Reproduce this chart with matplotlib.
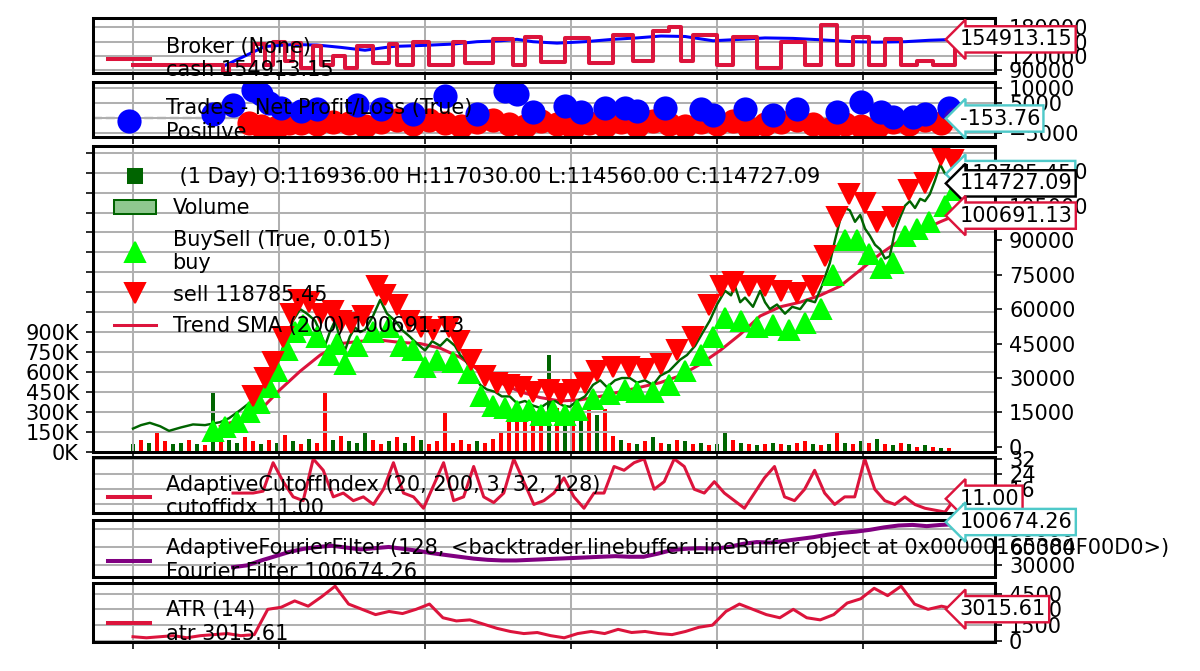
import numpy as np
import matplotlib
matplotlib.use("Agg")
import matplotlib.pyplot as plt
from matplotlib.lines import Line2D
from matplotlib.patches import Patch

# ---- data (x in trading days from start) ----
price_days = [0, 20, 42, 68, 90, 120, 150, 180, 218, 240, 268, 290, 318, 335, 355, 368, 380, 400, 418, 435,
              455, 468, 480, 492, 505, 518, 530, 542, 555, 568, 580, 600, 618, 635, 655, 672, 692, 710, 730, 748,
              768, 785, 805, 818, 830, 850, 868, 885, 905, 922, 942, 960, 980, 1000, 1018, 1035, 1055, 1075, 1092, 1110,
              1130, 1150, 1168, 1185, 1205, 1222, 1242, 1260, 1280, 1300, 1318, 1340, 1368, 1385, 1405, 1425, 1442, 1460, 1480, 1495,
              1505, 1518, 1530, 1550, 1568, 1580, 1592, 1610, 1630, 1648, 1668, 1685, 1705, 1722, 1742, 1755, 1768, 1780, 1792, 1805,
              1818, 1830, 1842, 1855, 1868, 1880, 1892, 1905, 1918, 1930, 1942, 1955, 1968, 1980, 1992, 2005, 2018, 2030, 2042, 2055]
price = [8000, 9500, 10500, 9000, 7000, 8500, 9800, 9500, 10800, 12500, 16000, 19000, 22600, 28000, 33000, 40000, 46000, 55000, 60000, 58000,
         55000, 50000, 44000, 50000, 55000, 47000, 42000, 48000, 52000, 50000, 51000, 57000, 64000, 58000, 55000, 51000, 48000, 45000, 42000, 46000,
         44000, 47000, 44000, 40000, 38000, 32000, 27000, 25000, 24000, 22000, 22000, 19000, 20000, 18000, 17000, 19000, 20000, 18000, 17500, 20000,
         22000, 27000, 29000, 26000, 29000, 30000, 30000, 28000, 29000, 27000, 31000, 33000, 38000, 40000, 44000, 50000, 55000, 62000, 68000, 66000,
         70000, 63000, 65000, 61000, 68000, 63000, 60000, 62000, 58000, 61000, 60000, 64000, 63000, 70000, 80000, 90000, 99000, 104000, 103000, 98000,
         101000, 95000, 92000, 88000, 86000, 82000, 83000, 94000, 100000, 105000, 107000, 104000, 108000, 107000, 110000, 116000, 123000, 119000, 118000, 114727]

sma_days = [218, 268, 318, 368, 418, 468, 518, 568, 618, 668, 718, 768, 818, 868, 918, 968, 1018, 1068, 1118, 1168,
            1218, 1268, 1318, 1368, 1418, 1468, 1518, 1568, 1618, 1668, 1718, 1768, 1818, 1868, 1918, 1968, 2018, 2055]
sma = [9000, 12000, 16000, 25000, 33000, 40000, 45000, 46000, 46500, 45500, 45000, 43000, 39000, 33000, 28000, 24000, 21500, 20000, 20500, 22000,
       24000, 26000, 28000, 31000, 36000, 42000, 49000, 57000, 61000, 63000, 66000, 70000, 77000, 84000, 90000, 94000, 98000, 100691]

buy_days = [200, 230, 260, 290, 315, 340, 360, 385, 405, 425, 460, 490, 510, 530, 560, 600, 640, 670, 700, 730,
            760, 800, 840, 870, 900, 930, 960, 990, 1020, 1050, 1080, 1110, 1150, 1190, 1230, 1260, 1300, 1340, 1380, 1420,
            1450, 1480, 1520, 1560, 1600, 1640, 1680, 1720, 1750, 1780, 1810, 1840, 1870, 1900, 1930, 1960, 1990, 2030, 2055]
buy_px = [7000, 8500, 11000, 15000, 19000, 26000, 33000, 42000, 50000, 53000, 48000, 40000, 45000, 36000, 44000, 50000, 52000, 44000, 42000, 35000,
          38000, 37000, 32000, 22000, 18000, 17000, 15500, 16000, 14000, 15500, 14000, 16000, 21000, 23000, 25000, 24000, 24000, 27000, 33000, 40000,
          48000, 56000, 55000, 52000, 53000, 51000, 54000, 60000, 75000, 90000, 90000, 84000, 78000, 80000, 92000, 95000, 98000, 105000, 112000]

sell_days = [300, 330, 350, 375, 395, 415, 440, 470, 500, 520, 545, 575, 610, 630, 660, 690, 720, 750, 790, 815,
             845, 880, 910, 940, 970, 1000, 1040, 1070, 1100, 1130, 1160, 1200, 1240, 1280, 1320, 1360, 1400, 1440, 1470, 1500,
             1540, 1580, 1620, 1660, 1700, 1730, 1760, 1790, 1830, 1860, 1900, 1940, 1980, 2020, 2050]
sell_px = [22000, 30000, 37000, 48000, 58000, 64000, 63000, 58000, 59000, 55000, 54000, 57000, 70000, 66000, 62000, 55000, 52000, 51000, 52000, 46000,
           38000, 31000, 28000, 27000, 26000, 24000, 25000, 23000, 25000, 28000, 33000, 35000, 35000, 34000, 36000, 42000, 48000, 62000, 70000, 72000,
           70000, 70000, 68000, 67000, 70000, 83000, 100000, 110000, 106000, 98000, 100000, 112000, 115000, 127000, 125000]

# volume in thousands, one bar every 20 days
volume_k = [60, 90, 70, 150, 80, 60, 70, 90, 60, 50, 440, 120, 90, 70, 110, 80, 60, 90, 70, 130,
            80, 60, 100, 70, 450, 90, 120, 80, 70, 160, 90, 60, 80, 110, 70, 120, 90, 60, 80, 300,
            70, 90, 60, 80, 70, 100, 150, 250, 280, 300, 320, 290, 730, 330, 310, 280, 300, 340, 280, 320,
            120, 90, 70, 60, 80, 110, 70, 60, 90, 80, 60, 70, 50, 60, 150, 90, 70, 60, 50, 60,
            70, 60, 50, 70, 80, 60, 50, 60, 140, 70, 60, 80, 70, 100, 60, 50, 70, 60, 40, 50, 40, 30, 30]
volume_up = "grgrrggrgrgrggrrgrgrgrgrrgrgggrrgrgrgrrrrrrgrrrrrrrrgrgrgrgrrgrgrgrgrgrgrggrgrgrgrgrrgrgrgrgrgrgrgrgrgr"

value_days = [0, 230, 280, 330, 400, 460, 520, 580, 650, 720, 800, 860, 920, 960, 1000, 1060, 1130, 1200, 1260, 1320,
              1380, 1450, 1520, 1580, 1650, 1720, 1800, 1860, 1930, 1990, 2055]
broker_value = [100000, 100000, 120000, 140000, 144000, 143000, 138000, 132000, 140000, 142000, 145000, 150000, 152000, 155000, 150000,
                147000, 150000, 155000, 158000, 162000, 161000, 152000, 155000, 158000, 157000, 154000, 150000, 149000, 150000, 153000, 154913]
cash_days = [0, 225, 240, 300, 330, 350, 380, 400, 420, 450, 470, 500, 530, 560, 600, 640, 660, 700, 740, 800,
             830, 900, 950, 980, 1020, 1080, 1140, 1200, 1250, 1300, 1340, 1370, 1400, 1460, 1500, 1560, 1620, 1680, 1720, 1760,
             1800, 1840, 1880, 1920, 1960, 2000, 2055]
cash = [100000, 85000, 100000, 145000, 100000, 150000, 110000, 148000, 95000, 140000, 100000, 120000, 95000, 140000, 105000, 145000, 100000, 150000, 100000, 150000,
        105000, 155000, 100000, 160000, 108000, 158000, 105000, 165000, 110000, 172000, 180000, 110000, 165000, 100000, 160000, 95000, 150000, 100000, 185000, 100000,
        160000, 100000, 155000, 100000, 110000, 100000, 154913]

win_days = [200, 250, 300, 320, 340, 370, 420, 460, 560, 620, 700, 780, 860, 930, 960, 1000, 1080, 1120, 1180, 1230,
            1260, 1330, 1420, 1450, 1530, 1600, 1660, 1760, 1820, 1870, 1900, 1950, 1980, 2040]
win_pnl = [1500, 4500, 9500, 8000, 5000, 3500, 2500, 3000, 4500, 3000, 1500, 7500, 1500, 9000, 8000, 2000, 4000, 2000, 3500, 3500,
           2500, 3500, 3000, 1000, 3000, 1000, 3000, 2000, 5500, 2000, 500, 500, 1500, 3500]
loss_days = [290, 320, 360, 390, 420, 460, 500, 540, 580, 620, 660, 700, 740, 780, 820, 860, 900, 940, 980, 1020,
             1060, 1100, 1140, 1180, 1220, 1260, 1300, 1340, 1380, 1420, 1460, 1500, 1540, 1580, 1620, 1660, 1700, 1740, 1780, 1820,
             1860, 1900, 1940, 1980, 2020]
loss_pnl = [-1800, -2500, -3000, -1800, -1500, -2000, -1200, -1500, -2800, -1200, -800, -2000, -800, -1500, -2500, -1200, -800, -2000, -2800, -1000,
            -2000, -3200, -1800, -2500, -1200, -2800, -1000, -2000, -2800, -1200, -2000, -1000, -3200, -2000, -1200, -800, -2000, -3500, -2000, -2500,
            -3000, -1200, -2000, -800, -1800]

cutoff = [14, 14, 14, 15, 30, 20, 12, 10, 32, 26, 12, 14, 10, 12, 8, 16, 30, 14, 12, 6, 18, 30, 10, 12, 28, 12, 9, 14, 32, 20,
          8, 10, 14, 22, 12, 6, 14, 14, 28, 26, 30, 32, 16, 20, 32, 28, 16, 14, 20, 14, 10, 6, 14, 22, 28, 12, 10, 16, 26, 14,
          8, 12, 12, 32, 16, 10, 8, 12, 8, 6, 5, 4, 11]
fourier = [27000, 30000, 38000, 45000, 52000, 57000, 60000, 62000, 59000, 56000, 58000, 60000, 57000, 54000, 50000, 47000, 44000, 41000, 39000, 38000,
           38000, 39000, 40000, 41000, 42000, 43000, 44000, 45000, 44000, 44000, 49000, 55000, 57000, 58000, 57000, 60000, 65000, 68000, 67000, 70000,
           73000, 76000, 80000, 83000, 85000, 88000, 92000, 95000, 96000, 94000, 96000, 97000]
atr = [400, 300, 400, 500, 300, 500, 600, 700, 500, 600, 3000, 3200, 3800, 3300, 4200, 5200, 3500, 3000, 2500, 2800, 2600, 3000, 3500, 2200,
       1900, 2000, 1600, 1200, 900, 700, 800, 500, 300, 700, 900, 700, 1100, 800, 900, 700, 600, 900, 1300, 1500, 2800, 3500, 3000, 2500,
       2200, 3000, 2200, 2000, 2500, 3600, 4000, 5000, 4300, 5200, 3500, 3000, 3300, 3015]

last_day = 2055
crimson = "crimson"
cyan = "#4fc9c9"
FS = 10.4

# ---- figure ----
W, H = 1200, 671
fig = plt.figure(figsize=(W / 145, H / 145), dpi=145)
plt.rcParams["font.size"] = FS


def panel(top, bottom):
    ax = fig.add_axes([93 / W, 1 - bottom / H, 902 / W, (bottom - top) / H])
    ax.set_xlim(-100, 2155)
    ax.set_xticks([0, 365, 730, 1095, 1460, 1825])
    ax.tick_params(labelbottom=False)
    ax.yaxis.tick_right()
    ax.grid(True, color="#b0b0b0", lw=1)
    for s in ax.spines.values():
        s.set_linewidth(1.5)
    ax.set_axisbelow(True)
    return ax


def tag(ax, x, y, text, ec):
    ax.text(x + 12, y, text, va="center", ha="left", fontsize=FS, clip_on=False, zorder=10,
            bbox=dict(boxstyle="larrow,pad=0.15", fc="white", ec=ec, lw=1.2))


def side_legend(ax, handles, labels, ypos):
    ax.legend(handles, labels, loc="center left", bbox_to_anchor=(0, ypos), frameon=False,
              fontsize=FS, handlelength=2, borderaxespad=0.3, labelspacing=0)


# broker
ax_b = panel(18, 73)
ax_b.plot(value_days, broker_value, color="blue", lw=1.5)
ax_b.step(cash_days, cash, where="post", color=crimson, lw=2)
ax_b.set_ylim(84000, 200000)
ax_b.set_yticks([90000, 120000, 150000, 180000])
tag(ax_b, last_day, 154913, "154913.15", crimson)
side_legend(ax_b, [Line2D([], [], color=crimson, lw=2)], ["Broker (None)\ncash 154913.15"], 0.27)

# trades
ax_t = panel(82, 137)
ax_t.axhline(0, color="#b0b0b0", ls="--", lw=1.2)
ax_t.plot(loss_days, loss_pnl, "o", color="red", ms=11, ls="none")
ax_t.plot(win_days, win_pnl, "o", color="blue", ms=11, ls="none")
ax_t.plot([last_day], [-153.76], "o", color="red", alpha=0.15, ms=11)
ax_t.set_ylim(-6300, 12000)
ax_t.set_yticks([-5000, 0, 5000, 10000])
tag(ax_t, last_day, -153.76, "-153.76", cyan)
side_legend(ax_t, [Line2D([], [], marker="o", color="blue", ms=11, ls="none")],
            ["Trades - Net Profit/Loss (True)\nPositive"], 0.31)

# main price panel
ax_p = panel(146, 452)
ax_v = ax_p.twinx()
ax_v.yaxis.tick_left()
ax_p.yaxis.tick_right()
ax_v.set_ylim(0, 2300000)
vticks = np.arange(0, 2300000, 150000)
ax_v.set_yticks(vticks)
ax_v.set_yticklabels([f"{int(v / 1000)}K" if v <= 900000 else "" for v in vticks])
ax_v.grid(True, color="#b0b0b0", lw=1)
ax_p.grid(False)
ax_p.xaxis.grid(True, color="#b0b0b0", lw=1)
vol_days = np.arange(len(volume_k)) * 20
vol_cols = ["darkgreen" if c == "g" else "red" for c in volume_up[:len(volume_k)]]
ax_v.bar(vol_days, np.array(volume_k) * 1000, width=9, color=vol_cols)
ax_v.set_zorder(0)
ax_p.set_zorder(1)
ax_p.patch.set_visible(False)
ax_p.plot(sma_days, sma, color=crimson, lw=1.5)
ax_p.plot(price_days, price, color="darkgreen", lw=1.2)
ax_p.plot(buy_days, buy_px, "^", color="lime", ms=10, ls="none")
ax_p.plot(sell_days, sell_px, "v", color="red", ms=10, ls="none")
ax_p.set_ylim(-2200, 131000)
ax_p.set_yticks(np.arange(0, 130000, 15000))
tag(ax_p, last_day, 118785.45, "118785.45", cyan)
tag(ax_p, last_day, 114727.09, "114727.09", "black")
tag(ax_p, last_day, 100691.13, "100691.13", crimson)
h_price = Line2D([], [], marker="s", color="darkgreen", ls="none", ms=7)
h_vol = Patch(facecolor="#8fc88f", edgecolor="darkgreen")
h_buy = Line2D([], [], marker="^", color="lime", ls="none", ms=10)
h_sell = Line2D([], [], marker="v", color="red", ls="none", ms=10)
h_sma = Line2D([], [], color=crimson, lw=1.5)
ax_p.legend([h_price, h_vol, h_buy, h_sell, h_sma],
            [" (1 Day) O:116936.00 H:117030.00 L:114560.00 C:114727.09", "Volume",
             "BuySell (True, 0.015)\nbuy", "sell 118785.45", "Trend SMA (200) 100691.13"],
            loc="upper left", frameon=False, fontsize=FS, handlelength=2, labelspacing=0.55,
            borderaxespad=0.6)

# cutoff index
ax_c = panel(457, 513)
ax_c.plot(np.linspace(250, last_day, len(cutoff)), cutoff, color=crimson, lw=1.5)
ax_c.set_ylim(3.5, 33)
ax_c.set_yticks([8, 16, 24, 32])
tag(ax_c, last_day, 11.0, "11.00", crimson)
side_legend(ax_c, [Line2D([], [], color=crimson, lw=2)],
            ["AdaptiveCutoffIndex (20, 200, 3, 32, 128)\ncutoffidx 11.00"], 0.29)

# fourier filter
ax_f = panel(520, 577)
ax_f.plot(np.linspace(250, last_day, len(fourier)), fourier, color="purple", lw=2)
ax_f.set_ylim(11000, 104000)
ax_f.set_yticks([30000, 60000, 90000])
tag(ax_f, last_day, 100674.26, "100674.26", cyan)
side_legend(ax_f, [Line2D([], [], color="purple", lw=2)],
            ["AdaptiveFourierFilter (128, <backtrader.linebuffer.LineBuffer object at 0x00000165384F00D0>)\nFourier Filter 100674.26"], 0.3)

# atr
ax_a = panel(583, 642)
ax_a.plot(np.linspace(0, last_day, len(atr)), atr, color=crimson, lw=1.5)
ax_a.set_ylim(-100, 5500)
ax_a.set_yticks([0, 1500, 3000, 4500])
tag(ax_a, last_day, 3015.61, "3015.61", crimson)
side_legend(ax_a, [Line2D([], [], color=crimson, lw=2)], ["ATR (14)\natr 3015.61"], 0.34)

fig.savefig("out.png", dpi=145)
